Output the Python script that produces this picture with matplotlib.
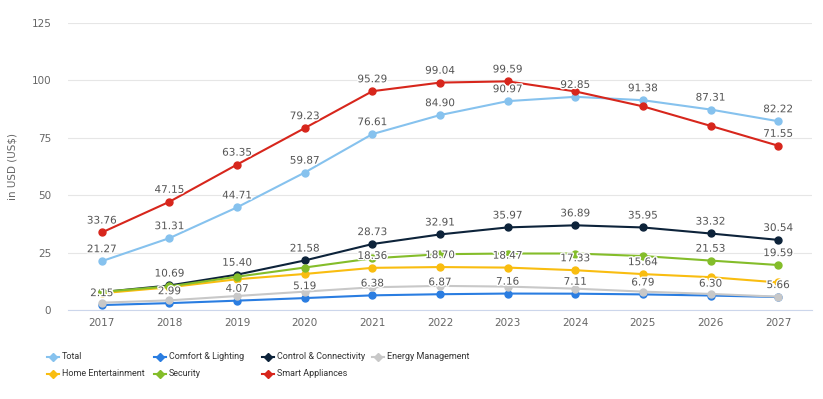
import matplotlib.pyplot as plt
import matplotlib.patheffects as pe
from matplotlib.lines import Line2D

years = list(range(2017, 2028))

total = [21.27, 31.31, 44.71, 59.87, 76.61, 84.90, 90.97, 92.85, 91.38, 87.31, 82.22]
comfort = [2.15, 2.99, 4.07, 5.19, 6.38, 6.87, 7.16, 7.11, 6.79, 6.30, 5.66]
control = [7.8, 10.69, 15.40, 21.58, 28.73, 32.91, 35.97, 36.89, 35.95, 33.32, 30.54]
energy = [3.2, 4.2, 6.1, 8.0, 9.9, 10.5, 10.2, 9.3, 8.0, 7.0, 5.8]
home = [7.3, 9.9, 13.4, 15.7, 18.36, 18.70, 18.47, 17.33, 15.64, 14.3, 12.0]
security = [7.9, 10.3, 14.5, 18.5, 22.5, 24.3, 24.6, 24.6, 23.5, 21.53, 19.59]
smart = [33.76, 47.15, 63.35, 79.23, 95.29, 99.04, 99.59, 95.2, 88.7, 80.2, 71.55]

names = ["Total", "Comfort & Lighting", "Control & Connectivity", "Energy Management",
         "Home Entertainment", "Security", "Smart Appliances"]
values = [total, comfort, control, energy, home, security, smart]
colors = ["#86c2ee", "#2a7de1", "#0d233a", "#c8c8c8", "#f9bd10", "#84bd2a", "#d7261c"]

# years whose value label is visible (the rest are hidden by overlap in the original)
shown = [
    years,
    years,
    years[1:],
    [],
    years[4:9],
    years[9:],
    years[:7] + [2027],
]

W, H = 823, 399
fig = plt.figure(figsize=(W / 100, H / 100), dpi=100)
ax = fig.add_axes([68 / W, 89 / H, 744 / W, 287 / H])

for name, vals, c in zip(names, values, colors):
    ax.plot(years, vals, color=c, lw=1.5, marker="o", ms=5, label=name, clip_on=False)

for vals, c, yrs in zip(values, colors, shown):
    for x, v in zip(years, vals):
        if x in yrs:
            ax.annotate(f"{v:.2f}", (x, v), xytext=(0, 5), textcoords="offset points",
                        ha="center", va="bottom", fontsize=7.5, color="#555555",
                        path_effects=[pe.withStroke(linewidth=2, foreground="white")],
                        zorder=10)

ax.set_xlim(2016.5, 2027.5)
ax.set_ylim(0, 125)
ax.set_yticks([0, 25, 50, 75, 100, 125])
ax.set_xticks(years)
ax.grid(axis="y", color="#e6e6e6", lw=0.8)
ax.set_axisbelow(True)
for s in ["top", "right", "left"]:
    ax.spines[s].set_visible(False)
ax.spines["bottom"].set_color("#ccd6eb")
ax.tick_params(axis="y", length=0, labelsize=7.5, labelcolor="#666666", pad=12)
ax.tick_params(axis="x", length=0, labelsize=7.5, labelcolor="#666666", pad=6)
ax.set_ylabel("in USD (US$)", fontsize=7.5, color="#666666", labelpad=10)

# legend: 4 columns, row by row, items placed at fixed pixel positions
col_x = [53, 160, 268, 378]
row_y = [356.5, 373.5]
for i, (name, c) in enumerate(zip(names, colors)):
    x = col_x[i % 4]
    y = H - row_y[i // 4]
    fig.add_artist(Line2D([(x - 6) / W, (x + 6) / W], [y / H, y / H], color=c, lw=1.5))
    fig.add_artist(Line2D([x / W], [y / H], color=c, marker="D", ms=4, lw=0))
    fig.text((x + 9) / W, y / H, name, fontsize=6.5, color="#333333", va="center",
             ha="left", family=["Roboto", "DejaVu Sans"])

fig.savefig("out.png", dpi=100)
